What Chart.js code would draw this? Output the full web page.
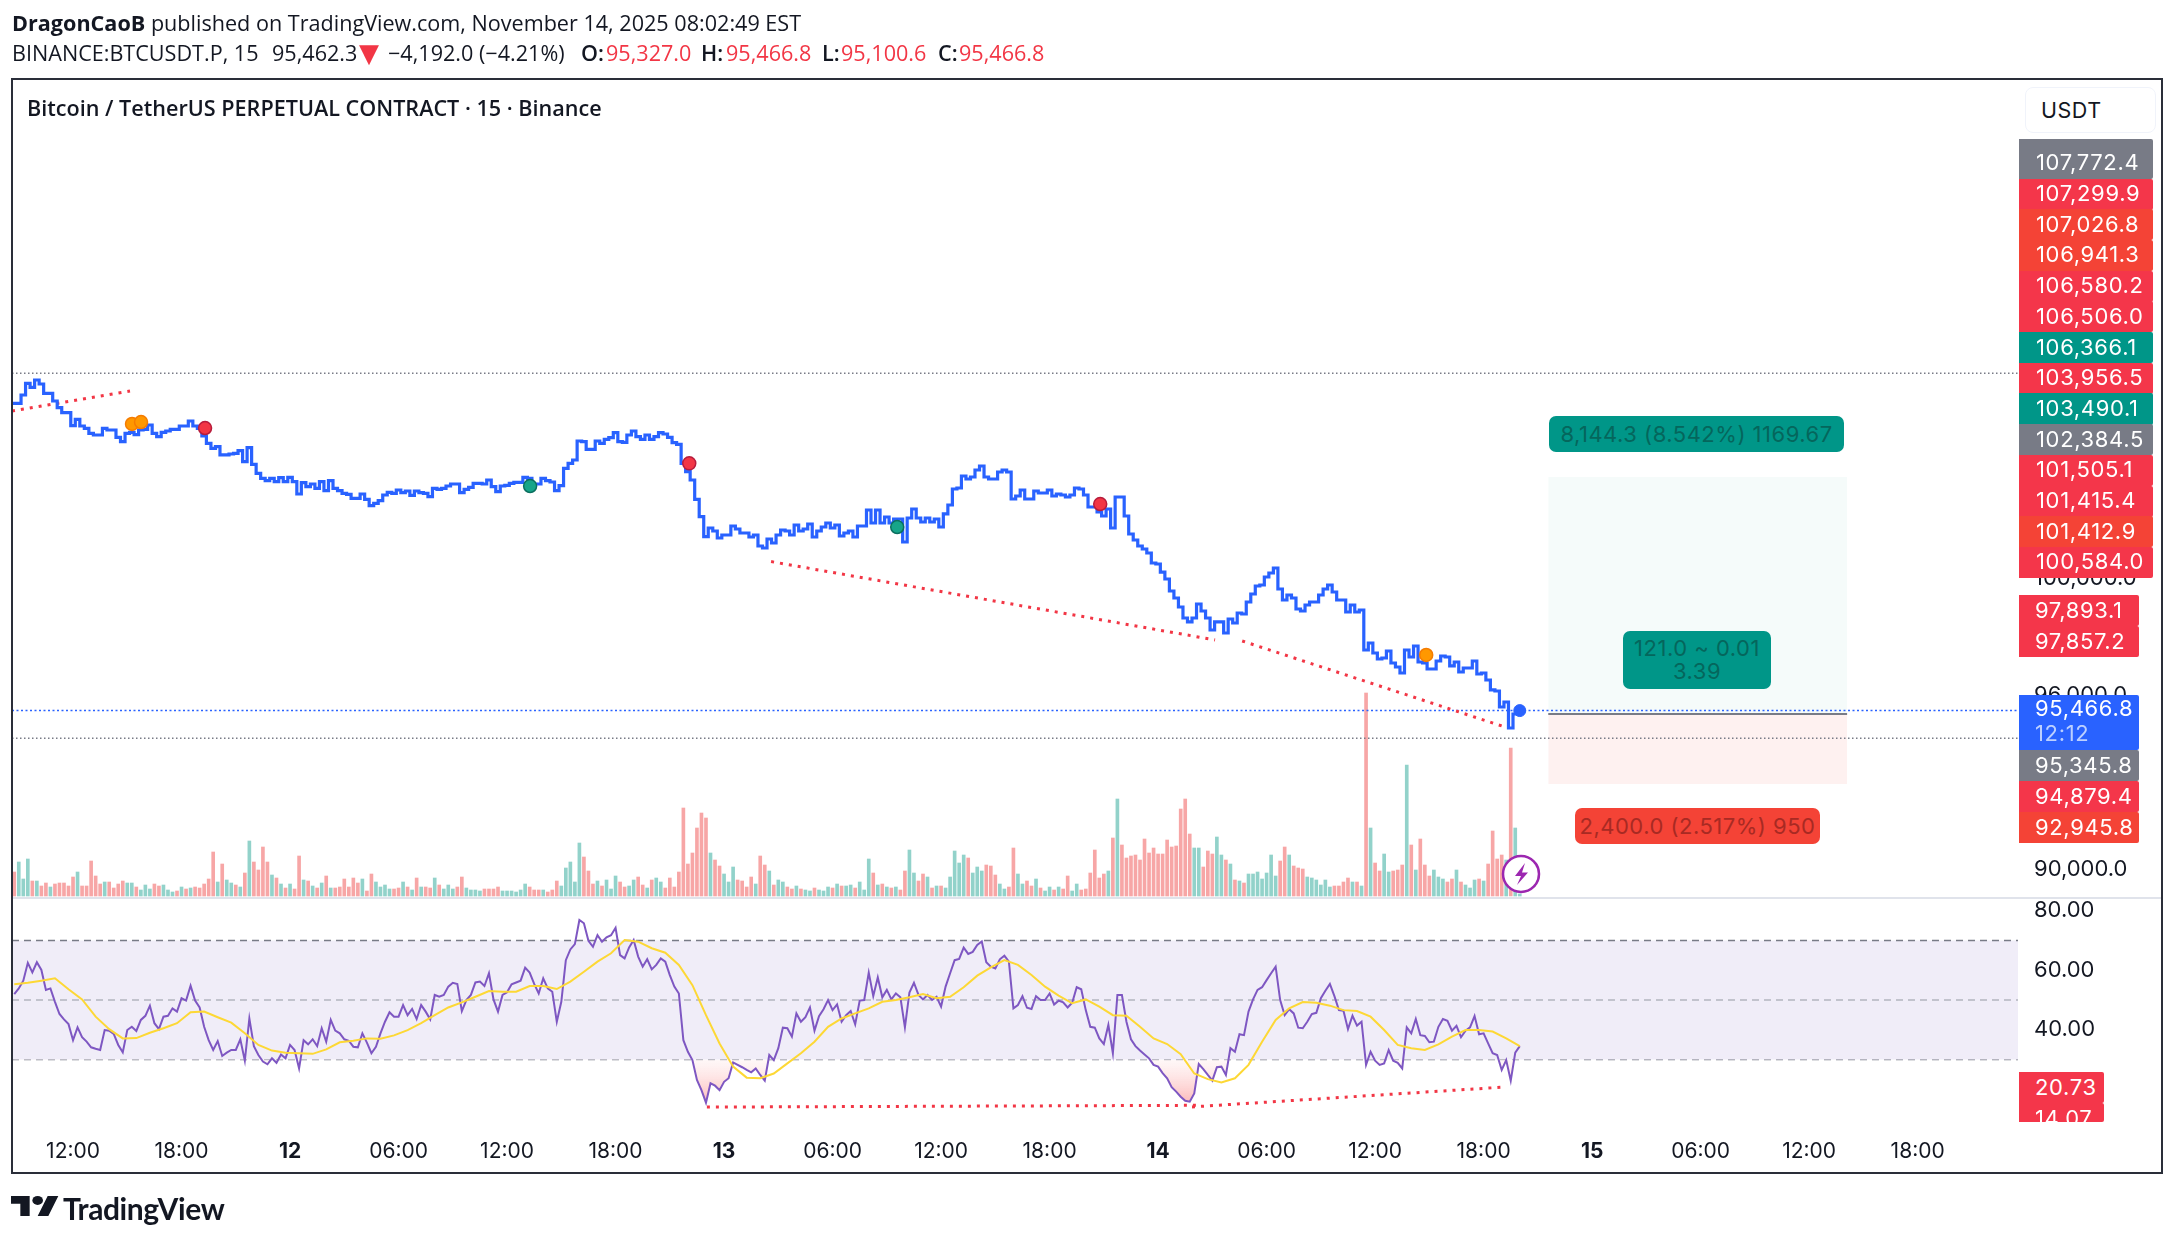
<!DOCTYPE html>
<html><head><meta charset="utf-8">
<script src="https://cdn.jsdelivr.net/npm/chart.js@4"></script>
<style>
html,body{margin:0;padding:0;background:#fff;width:2174px;height:1239px;overflow:hidden}
body{position:relative;font-family:Inter,sans-serif;color:#131722}
canvas{position:absolute;left:0;top:0}
.abs{position:absolute;white-space:nowrap}
.head{font-family:"Open Sans",sans-serif;font-size:21.6px;line-height:26px;left:12px}
.tag{position:absolute;color:#fff;font-size:22px;letter-spacing:.65px;display:flex;align-items:center;box-sizing:border-box;padding-left:17px;padding-bottom:2px;border-radius:0 2px 2px 0}
.pill{position:absolute;display:flex;align-items:center;justify-content:center;text-align:center;border-radius:7px;font-size:22px;letter-spacing:.5px;line-height:23px;white-space:pre}
</style></head><body>
<canvas id="c" width="2174" height="1239"></canvas>
<div class="abs head" style="top:10px"><b style="font-weight:700">DragonCaoB</b> published on TradingView.com, November 14, 2025 08:02:49 EST</div>
<div id="quote"></div>
<div class="abs" style="left:12px;top:79px;width:2148px;height:1092px;border:2px solid #2a2e39;margin:-1px 0 0 -1px"></div>
<div class="abs head" style="left:27px;top:95px;font-weight:600">Bitcoin / TetherUS PERPETUAL CONTRACT · 15 · Binance</div>
<div class="abs" style="left:2025px;top:87px;width:131px;height:46px;box-sizing:border-box;border:1.5px solid #f0f3fa;border-radius:8px;font-size:21.5px;letter-spacing:.5px;line-height:44px;padding-left:15px;background:#fff">USDT</div>
<div id="tags"></div>
<div class="pill" style="left:1549px;top:416px;width:295px;height:36px;background:#009688;color:#05665c">8,144.3 (8.542%) 1169.67</div>
<div class="pill" style="left:1623px;top:631px;width:148px;height:58px;background:#009688;color:#05665c">121.0 ~ 0.01
3.39</div>
<div class="pill" style="left:1575px;top:808px;width:245px;height:36px;background:#f44336;color:#a82a23">2,400.0 (2.517%) 950</div>
<svg class="abs" style="left:1500px;top:853px" width="42" height="42" viewBox="0 0 42 42"><circle cx="21" cy="21" r="18" fill="#fff" stroke="#9c27b0" stroke-width="2.5"/><path d="M25 10 L15 23 L21 23 L17 32 L28 19.5 L22 19.5 Z" fill="#9c27b0"/></svg>
<svg class="abs" style="left:11px;top:1196px" width="48" height="20" viewBox="0 4 36 18" preserveAspectRatio="none"><path d="M14 22H7V11H0V4h14v18zM28 22h-8l7.5-18h8L28 22z" fill="#131722"/><circle cx="20" cy="8" r="4" fill="#131722"/></svg>
<div class="abs" style="left:63px;top:1190px;font-family:Lato,sans-serif;font-weight:700;font-size:30px;line-height:36px;letter-spacing:-.4px">TradingView</div>
<script>
const firstBar = -13;
const firstPriceBar = -14;
const priceValues = [106019,106019,106019,106305,106706,106568,106820,106683,106362,106362,106099,105870,105698,105698,
105252,105469,105240,105160,104989,104931,104931,105160,105103,105103,104851,104702,104989,105023,104943,105103,105126,105275,104989,104874,105023,105069,105126,105126,105240,105240,105412,105240,105160,104897,104645,104474,104531,104245,104245,104279,104302,104393,104016,104496,103924,103615,103443,103363,103443,103329,103466,103329,103478,103329,102905,103294,103157,103249,103100,103329,103020,103363,103100,103020,102928,102894,102757,102757,102905,102722,102505,102585,102676,102871,102963,102928,103043,102951,103008,102859,103008,102951,102928,102814,103100,103066,103100,103180,103249,103249,102951,103066,103134,103272,103272,103249,103386,103157,102985,103180,103203,103272,103306,103306,103478,103443,103249,103249,103443,103363,103317,103020,103191,103787,103958,104073,104725,104702,104439,104439,104725,104645,104783,104840,105012,104702,104680,104931,105069,104874,104783,104931,104783,104874,105012,104966,104851,104668,104611,103958,103672,103386,102722,102127,101440,
101737,101634,101394,101497,101497,101806,101703,101566,101566,101428,101497,101119,101051,101360,101222,101497,101669,101634,101497,101840,101634,101703,101875,101428,101634,101772,101909,101737,101840,101462,101566,101634,101428,101806,101806,102356,101909,102356,101909,102115,101909,102046,102046,101257,102081,102390,102081,101943,102081,101943,102046,101772,102219,102527,103077,103111,103523,103420,103489,103729,103867,103489,103420,103420,103660,103729,103660,102733,102836,103042,102733,102733,103008,102939,102939,103042,102836,102905,102871,102802,102871,103111,103077,102871,102459,102459,102287,102150,102390,101737,102802,102802,102150,101531,101325,101119,101016,100879,100535,100501,100225,99986,99574,99334,99025,98647,98510,98647,99128,98887,98647,98235,98510,98510,98132,98612,98475,98818,98784,99196,99471,99746,99780,100055,100192,100364,99643,99265,99437,99334,98956,98887,99093,99196,99196,99437,99643,99780,99540,99265,99265,98853,99093,98853,98922,97548,97788,97445,97239,97273,97514,97101,96964,96758,97548,97308,97685,97136,97101,96895,96895,97170,97342,97308,97000,97136,96792,96930,96930,97170,96723,96758,96518,96175,96140,95590,95762,94869,95350,95466.8];
// volume per bar: positive = up bar (teal), negative = down bar (red)
const signedVolumes = [-24,34,17,37,-15,15,-10,-13,9,-12,-13,-13,-10,
-19,24,-10,-10,-35,-20,-12,14,-14,-8,-12,-15,13,13,-9,6,11,7,-12,-10,11,6,4,-5,9,-7,8,-9,-8,-12,-17,-44,14,-32,16,13,-11,9,-23,55,-34,-26,-49,-34,21,-18,12,-8,12,-7,-40,16,-15,10,-8,13,-20,8,-8,-9,-17,-9,-18,-13,17,-5,-22,14,9,11,7,-7,-8,14,-9,6,-18,9,-9,-8,18,-11,7,11,7,-9,-19,8,6,6,5,-7,-7,-7,-9,5,5,5,4,6,12,-9,-6,-6,6,-4,-6,-15,10,28,34,14,53,-39,-25,-12,15,-10,16,7,20,-14,-9,10,16,-19,-11,8,-16,18,14,-8,-18,-9,-24,-88,-32,-43,-68,-83,-78,43,-36,-30,22,14,29,-16,-15,-9,-19,12,-40,
-31,25,-11,16,14,-9,-7,10,-7,6,5,-8,6,5,9,-8,12,-10,10,11,-8,14,6,37,-23,11,-12,9,-8,9,-6,-25,46,23,-15,-22,19,-8,10,-10,8,19,45,33,41,-38,23,29,25,-31,-30,-21,12,7,-9,-48,22,12,-15,-10,17,-8,5,9,-6,9,-7,-20,5,12,-6,-7,-23,-46,-18,-22,25,-58,97,-51,-38,-40,-41,-36,-57,-43,-48,-42,-42,-56,-49,-50,-87,-97,-62,48,48,-29,-45,-42,59,41,-36,32,-16,15,-13,22,22,24,17,23,41,20,-35,-49,41,-30,-28,-27,19,18,16,11,16,9,-10,-10,-14,-18,14,-14,10,-203,68,-33,-25,42,24,-25,-26,-31,131,-51,26,-57,-31,-20,26,19,17,-14,-17,26,-14,11,8,16,-17,15,-32,-65,-37,-41,36,-148,68,2];
const rsiValues = [52.0,53.9,56.5,62.5,59.3,62.7,60.1,53.4,53.9,49.4,45.3,43.5,41.9,
36.5,40.8,37.5,36.0,34.1,33.6,33.2,39.9,39.7,38.6,34.9,32.4,39.9,41.0,39.6,43.3,44.7,48.1,42.2,40.2,44.4,44.7,47.2,46.1,50.6,49.8,54.8,49.8,47.5,41.0,36.5,33.2,36.2,31.2,32.3,33.2,33.2,36.8,29.6,43.8,34.5,31.5,29.3,28.4,30.4,28.9,31.7,30.4,34.9,33.2,27.0,36.5,35.1,36.8,34.5,40.5,36.0,43.3,39.7,38.8,36.8,36.3,34.3,34.1,38.8,35.7,32.1,34.3,38.8,42.7,45.9,44.4,44.4,48.3,44.9,47.0,43.6,48.3,46.1,43.5,51.7,51.1,51.7,54.5,55.8,55.4,46.3,50.0,51.7,55.9,56.2,54.7,59.0,50.2,46.1,51.7,52.6,55.3,55.9,56.5,60.9,59.2,55.4,52.2,57.3,53.9,52.8,42.7,49.4,63.4,67.0,68.8,76.9,75.8,69.9,67.9,71.8,69.6,71.1,71.8,74.3,65.1,64.0,67.7,70.2,64.6,61.2,63.7,60.3,61.8,64.0,62.9,58.4,54.5,52.2,36.5,32.6,29.8,23.1,19.7,15.5,22.0,21.2,19.7,22.5,23.7,29.0,28.2,27.4,26.5,25.7,27.0,24.8,
22.9,31.5,29.8,33.8,40.7,40.5,37.7,45.5,42.7,44.2,47.5,39.7,44.6,46.9,50.0,46.6,48.5,42.7,44.9,46.3,41.8,49.8,50.0,59.2,51.3,57.6,50.9,53.4,50.2,52.2,50.9,40.8,52.5,55.8,51.7,50.2,51.7,50.0,51.1,47.8,54.5,59.0,63.4,63.8,67.6,65.5,66.2,68.5,69.7,62.7,61.2,60.6,63.7,64.9,62.9,47.2,48.3,51.3,47.4,47.0,51.3,50.0,50.0,52.2,48.5,49.8,49.2,47.5,49.1,54.3,53.6,46.6,41.0,40.7,37.1,35.2,41.6,32.1,51.7,51.7,42.7,36.8,34.5,33.0,31.7,30.4,28.2,27.6,25.4,23.7,20.7,19.2,17.5,16.1,15.8,18.6,28.5,26.8,24.8,22.9,27.4,27.6,24.8,33.8,32.6,38.5,38.2,46.1,50.2,53.4,54.3,56.7,59.0,61.2,50.0,44.9,46.9,45.5,40.7,40.5,42.7,45.3,45.7,50.6,53.1,55.4,51.3,46.6,46.4,40.2,44.7,41.4,42.7,28.2,32.6,29.6,28.2,28.7,33.2,29.6,28.9,27.0,40.8,38.8,43.6,38.2,37.9,35.8,36.0,41.0,43.6,43.0,39.7,41.3,37.5,39.7,40.8,44.6,38.5,38.8,35.4,32.1,31.5,26.5,29.8,22.9,32.3,34.5];
// RSI moving average, read every third bar
const rsiMaStep = 3;
const rsiMaValues = [55.3,55.8,56.5,57.3,53.6,50.2,44.4,40.2,37.1,37.2,39.0,40.5,42.2,45.9,46.1,44.2,42.4,38.8,34.9,33.0,32.3,32.1,31.9,33.4,35.8,36.3,37.1,37.0,38.1,39.9,42.2,44.9,47.5,49.2,51.1,53.0,52.8,52.8,54.7,54.7,53.7,56.2,59.5,62.9,65.7,70.2,69.6,67.4,65.9,61.8,55.0,44.9,35.4,27.6,23.9,23.7,25.3,28.7,32.1,36.0,41.0,43.8,45.5,47.2,49.4,50.0,50.9,52.0,50.6,51.1,54.3,58.2,61.0,63.4,61.8,58.4,54.5,51.5,48.9,50.2,47.8,44.9,44.7,41.0,37.1,35.2,31.8,25.3,23.4,22.3,23.7,28.2,36.0,43.3,47.2,49.3,49.1,48.1,46.6,46.3,44.4,39.9,34.9,33.8,33.2,35.1,37.7,39.9,39.9,39.4,37.1,34.5];
const tickBars = [0,24,48,72,96,120,144,168,192,216,240,264,288,312,336,360,384,408];
const tickLabels = ['12:00','18:00','12','06:00','12:00','18:00','13','06:00','12:00','18:00','14','06:00','12:00','18:00','15','06:00','12:00','18:00'];
const priceTicks = [100000,96000,90000];
const rsiTicks = [80,60,40];
const rsiLevels = [70,50,30];
const trendPriceA = {bars:[-13.5,12.6], prices:[105755,106442]};
const trendPriceB = {bars:[154.4,252.6], prices:[100584.0,97893.1]};
const trendPriceC = {bars:[258.6,317.2], prices:[97857.2,94879.4]};
const trendRsiA = {bars:[140.2,249], values:[14.0,14.6]};
const trendRsiB = {bars:[247.5,316.5], values:[14.07,20.73]};
const orangeMarkers = {bars:[13.05,15.04,299.3], prices:[105309,105377,97376]};
const redMarkers = {bars:[29.2,136.3,227.2], prices:[105171,103956.5,102561]};
const greenMarkers = {bars:[101.1,182.3], prices:[103179,101771]};
const lastPrice = 95466.8;
const grayLevels = [107055,94516];
const positionBars = [326.3,392.4];
const positionTarget = 103490.1, positionEntry = 95345.8, positionStop = 92945.8;
const tagRows = [['107,299.9','r'],['107,026.8','o'],['106,941.3','o'],['106,580.2','r'],['106,506.0','r'],['106,366.1','t'],['103,956.5','r'],['103,490.1','t'],['102,384.5','g'],['101,505.1','r'],['101,415.4','r'],['101,412.9','o'],['100,584.0','r']];
const tagColors = {r:'#f4364a',o:'#f44336',t:'#009688',g:'#787b86',b:'#2962ff'};
const quoteParts = [['BINANCE:BTCUSDT.P, 15',12,'#131722',400],['95,462.3',272,'#131722',400],['−4,192.0 (−4.21%)',388,'#131722',400],['O:',581,'#131722',600],['95,327.0',606,'#f23645',400],['H:',701,'#131722',600],['95,466.8',726,'#f23645',400],['L:',822,'#131722',600],['95,100.6',841,'#f23645',400],['C:',938,'#131722',600],['95,466.8',959,'#f23645',400]];

const quote=document.getElementById('quote');
quoteParts.forEach(p=>{const d=document.createElement('div');d.className='abs head';d.style.cssText=`top:40px;left:${p[1]}px;color:${p[2]};font-weight:${p[3]}`;d.textContent=p[0];quote.appendChild(d);});
const tri=document.createElement('div');tri.className='abs';tri.style.cssText='left:359px;top:39px;font:26px/28px "DejaVu Sans";color:#f23645';tri.textContent='▼';quote.appendChild(tri);

const xMin=-13.5, xMax=430.2;
const pts=(xs,ys)=>xs.map((x,i)=>({x,y:ys[i]}));
const series=(vals,step=1,from=firstBar)=>vals.map((y,i)=>({x:from+i*step,y}));
const hline=(y)=>[{x:xMin,y},{x:xMax,y}];
const ctx=document.getElementById('c').getContext('2d');
ctx.letterSpacing='.8px';
const rsiGrad=ctx.createLinearGradient(0,1060,0,1112);
rsiGrad.addColorStop(0,'rgba(255,240,240,0.5)');
rsiGrad.addColorStop(1,'#fba6a6');
const lineBase={type:'line',pointRadius:0,tension:0,fill:false};
const dotted={...lineBase,borderColor:'#f23645',borderWidth:3,borderDash:[3,6]};
const marker=(m,fill,stroke,order)=>({type:'line',showLine:false,data:pts(m.bars,m.prices),yAxisID:'yPrice',pointRadius:6.5,pointHoverRadius:6.5,pointBackgroundColor:fill,pointBorderColor:stroke,pointBorderWidth:1.5,order});
const datasets=[
 marker(orangeMarkers,'#ff9800','#f57c00',0),
 marker(redMarkers,'#f23645','#b71c3c',0),
 marker(greenMarkers,'#17a589','#0b6f5f',0),
 {type:'line',showLine:false,data:[{x:firstPriceBar+priceValues.length-1,y:lastPrice}],yAxisID:'yPrice',pointRadius:6,pointBackgroundColor:'#2962ff',pointBorderColor:'#2962ff',order:0},
 {...lineBase,data:series(priceValues,1,firstPriceBar),yAxisID:'yPrice',borderColor:'#2962ff',borderWidth:3.2,stepped:'middle',order:1},
 {...dotted,data:pts(trendPriceA.bars,trendPriceA.prices),yAxisID:'yPrice',order:2},
 {...dotted,data:pts(trendPriceB.bars,trendPriceB.prices),yAxisID:'yPrice',order:2},
 {...dotted,data:pts(trendPriceC.bars,trendPriceC.prices),yAxisID:'yPrice',order:2},
 {...lineBase,data:hline(lastPrice),yAxisID:'yPrice',borderColor:'#2962ff',borderWidth:1.5,borderDash:[2,2.5],order:3},
 {...lineBase,data:hline(grayLevels[0]),yAxisID:'yPrice',borderColor:'#787b86',borderWidth:1.5,borderDash:[1.5,2.5],order:3},
 {...lineBase,data:hline(grayLevels[1]),yAxisID:'yPrice',borderColor:'#787b86',borderWidth:1.5,borderDash:[1.5,2.5],order:3},
 {type:'bar',data:series(signedVolumes.map(Math.abs)),yAxisID:'yVol',backgroundColor:signedVolumes.map(v=>v>=0?'#92d2ca':'#f7a6a6'),barThickness:3,order:4},
 {...lineBase,data:pts(positionBars,[positionTarget,positionTarget]),yAxisID:'yPrice',borderWidth:0,fill:'+1',backgroundColor:'#f5fbfa',order:6},
 {...lineBase,data:pts(positionBars,[positionEntry,positionEntry]),yAxisID:'yPrice',borderColor:'#787b86',borderWidth:2,fill:'+1',backgroundColor:'#fef1f0',order:5},
 {...lineBase,data:pts(positionBars,[positionStop,positionStop]),yAxisID:'yPrice',borderWidth:0,order:7},
 {...lineBase,data:series(rsiMaValues,rsiMaStep),yAxisID:'yRsi',borderColor:'#fdd835',borderWidth:2,order:0},
 {...lineBase,data:series(rsiValues),yAxisID:'yRsi',borderColor:'#7e57c2',borderWidth:2,fill:{value:rsiLevels[2],above:'rgba(0,0,0,0)',below:rsiGrad},order:1},
 {...dotted,data:pts(trendRsiA.bars,trendRsiA.values),yAxisID:'yRsi',order:2},
 {...dotted,data:pts(trendRsiB.bars,trendRsiB.values),yAxisID:'yRsi',order:2},
 {...lineBase,data:hline(rsiLevels[1]),yAxisID:'yRsi',borderColor:'#b2b5be',borderWidth:1.5,borderDash:[7,5],order:3},
 {...lineBase,data:hline(rsiLevels[0]),yAxisID:'yRsi',borderColor:'#787b86',borderWidth:1.5,borderDash:[7,5],fill:'+1',backgroundColor:'#f0edf8',order:4},
 {...lineBase,data:hline(rsiLevels[2]),yAxisID:'yRsi',borderColor:'#787b86',borderWidth:1.5,borderDash:[7,5],order:4.5},
];
const axisFont={family:'Inter',size:22};
const yFit=s=>{s.width=144};
new Chart(ctx,{type:'line',data:{datasets},options:{
 responsive:false,animation:false,devicePixelRatio:1,parsing:true,normalized:false,
 layout:{padding:{left:12,right:12,top:80,bottom:66}},
 plugins:{legend:{display:false},tooltip:{enabled:false},title:{display:false}},
 scales:{
  x:{type:'linear',min:xMin,max:xMax,offset:false,grid:{display:false},border:{display:false},
     afterBuildTicks:s=>{s.ticks=tickBars.map(value=>({value}))},
     afterFit:s=>{s.height=43},
     ticks:{autoSkip:false,maxRotation:0,minRotation:0,padding:1.5,color:'#131722',
       font:c=>{const l=tickLabels[tickBars.indexOf(c.tick&&c.tick.value)];return {family:'Inter',size:21,weight:(l&&l.length===2)?'700':'400'}},
       callback:v=>tickLabels[tickBars.indexOf(v)]||''}},
  yPrice:{position:'right',stack:'right',stackWeight:818,min:89031,max:117122,grid:{display:false},border:{display:false},
     afterBuildTicks:s=>{s.ticks=priceTicks.map(value=>({value}))},afterFit:yFit,
     ticks:{padding:8,color:'#131722',font:axisFont,callback:v=>Number(v).toLocaleString('en-US',{minimumFractionDigits:1})}},
  yRsi:{position:'right',stack:'right',stackWeight:232,min:6.3,max:84.3,grid:{display:false},border:{display:false},
     afterBuildTicks:s=>{s.ticks=rsiTicks.map(value=>({value}))},afterFit:yFit,
     ticks:{padding:8,color:'#131722',font:axisFont,callback:v=>Number(v).toFixed(2)}},
  yVol:{display:false,position:'right',min:-234,max:816}
 }},
 plugins:[{id:'paneLine',afterDraw(ch){const c=ch.ctx;c.save();c.strokeStyle='#e0e3eb';c.lineWidth=2;c.beginPath();c.moveTo(12,ch.scales.yPrice.bottom);c.lineTo(2162,ch.scales.yPrice.bottom);c.stroke();c.restore();}}]
});
// stacked price tags on the right
const host=document.getElementById('tags');
function tag(text,left,top,w,h,color,extra){const d=document.createElement('div');d.className='tag';d.style.cssText=`left:${left}px;top:${top}px;width:${w}px;height:${h}px;background:${color};`+(extra||'');d.textContent=text;host.appendChild(d);return d;}
tag('107,772.4',2019,139,134,40,tagColors.g,'padding-top:8px;');
tagRows.forEach((r,i)=>tag(r[0],2019,178.5+i*30.7,134,31.2,tagColors[r[1]]));
tag('97,893.1',2019,595,120,31,tagColors.r,'padding-left:16px;');
tag('97,857.2',2019,626,120,31,tagColors.r,'padding-left:16px;');
const blue=tag('',2019,695,120,55,tagColors.b,'display:block;padding:1px 0 0 16px;line-height:25px;');
blue.innerHTML='95,466.8<br><span style="color:#bcd0ff">12:12</span>';
tag('95,345.8',2019,750,120,31,tagColors.g,'padding-left:16px;');
tag('94,879.4',2019,781,120,31,tagColors.r,'padding-left:16px;');
tag('92,945.8',2019,812,120,31,tagColors.o,'padding-left:16px;');
tag('20.73',2019,1072,85,31,tagColors.r,'padding-left:16px;');
tag('14.07',2019,1103,85,19,tagColors.r,'padding-left:16px;overflow:hidden;align-items:flex-start;line-height:30px;');
</script>
</body></html>
